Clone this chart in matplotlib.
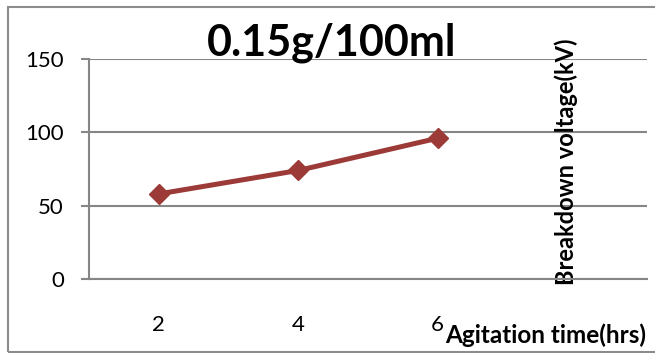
import matplotlib
matplotlib.use("Agg")
import matplotlib.pyplot as plt
from matplotlib.patches import Rectangle

# data
hours = ["2", "4", "6"]
voltage = [58, 74, 96]
y_ticks = [0, 50, 100, 150]

plt.rcParams['font.family'] = ['Lato', 'DejaVu Sans']

W, H = 655, 353
fig = plt.figure(figsize=(W / 100, H / 100), dpi=100)

# outer chart frame (runs off the right edge like the original)
fig.patches.append(Rectangle((8 / W, 1.5 / H), 1.0, (346 - 1.5) / H,
                             transform=fig.transFigure, fill=False,
                             edgecolor='#8c8c8c', linewidth=1.5))

# plot area in pixels: left 89, right 647, top 59, bottom 279
ax = fig.add_axes([89 / W, (H - 279) / H, (647 - 89) / W, (279 - 59) / H])

grey = '#868686'
x = list(range(len(hours)))
ax.plot(x, voltage, color='#9C3A38', linewidth=3.6, marker='D',
        markersize=10, zorder=3, clip_on=False)

# four category slots, the last one empty
ax.set_xlim(-0.5, 3.5)
ax.set_ylim(0, 150)
ax.set_xticks(x)
ax.set_xticklabels(hours)
ax.set_yticks(y_ticks)

ax.grid(axis='y', color=grey, linewidth=1.5)
ax.set_axisbelow(True)
for s in ['top', 'right']:
    ax.spines[s].set_visible(False)
ax.spines['left'].set_color(grey)
ax.spines['left'].set_linewidth(1.5)
ax.spines['bottom'].set_color(grey)
ax.spines['bottom'].set_linewidth(1.5)

ax.tick_params(axis='y', length=6, width=1.5, color=grey, pad=12,
               labelsize=16)
ax.tick_params(axis='x', length=0, pad=26, labelsize=16)

ax.text((332 - 89) / 558, (279 - 43) / 220, "0.15g/100ml", fontsize=31,
        fontweight='bold', ha='center', va='center', transform=ax.transAxes)

ax.set_xlabel("Agitation time(hrs)", fontsize=17.5, fontweight='bold',
              ha='left', va='center')
ax.xaxis.set_label_coords((445 - 89) / 558, (279 - 335) / 220)

ax.set_ylabel("Breakdown voltage(kV)", fontsize=17, fontweight='bold',
              va='center', ha='center')
ax.yaxis.set_label_coords((566 - 89) / 558, (279 - 162) / 220)

fig.savefig("out.png", dpi=100)
